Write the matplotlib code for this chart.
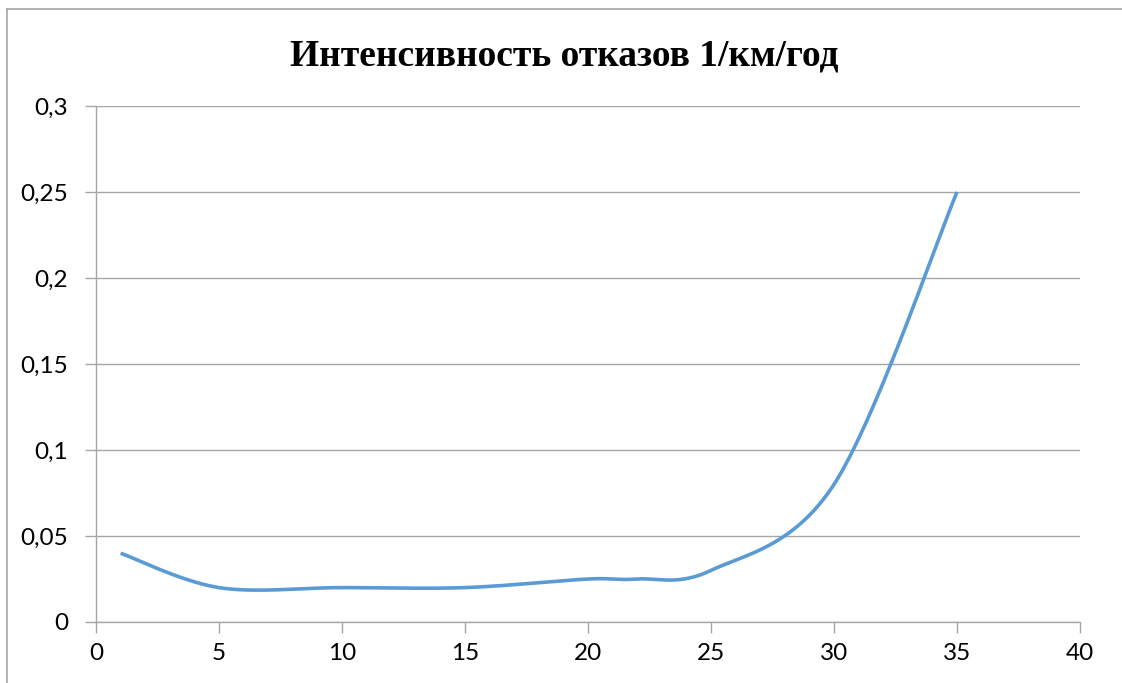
import numpy as np
import matplotlib
matplotlib.use("Agg")
import matplotlib.pyplot as plt
from matplotlib.lines import Line2D

# ---- data ----
years = [1, 5, 10, 15, 20, 22, 25, 30, 35]
rate = [0.04, 0.02, 0.02, 0.02, 0.025, 0.025, 0.03, 0.08, 0.25]
y_ticks = [0, 0.05, 0.1, 0.15, 0.2, 0.25, 0.3]
y_labels = ["0", "0,05", "0,1", "0,15", "0,2", "0,25", "0,3"]
x_ticks = [0, 5, 10, 15, 20, 25, 30, 35, 40]
x_labels = ["0", "5", "10", "15", "20", "25", "30", "35", "40"]
title = "Интенсивность отказов 1/км/год"


def smooth(ax, xs, ys, n=60):
    """Excel-style smoothed line: Bezier segments built in display space,
    control arms (P2-P0)/6 clamped to half the segment length."""
    P = ax.transData.transform(np.column_stack([xs, ys]).astype(float))
    N = len(P)
    f = 1.0 / 6.0
    out = []
    t = np.linspace(0, 1, n)[:, None]
    for i in range(N - 1):
        p0 = P[i - 1] if i > 0 else P[i]
        p1, p2 = P[i], P[i + 1]
        p3 = P[i + 2] if i + 2 < N else P[i + 1]
        d12 = np.linalg.norm(p2 - p1)
        d02 = np.linalg.norm(p2 - p0)
        d13 = np.linalg.norm(p3 - p1)
        f0 = f if d02 * f < d12 / 2 else (d12 / 2) / d02
        f1 = f if d13 * f < d12 / 2 else (d12 / 2) / d13
        c1 = p1 + (p2 - p0) * f0
        c2 = p2 - (p3 - p1) * f1
        seg = ((1 - t) ** 3) * p1 + 3 * ((1 - t) ** 2) * t * c1 + 3 * (1 - t) * t ** 2 * c2 + t ** 3 * p2
        out.append(seg if i == 0 else seg[1:])
    c = ax.transData.inverted().transform(np.vstack(out))
    return c[:, 0], c[:, 1]


W, H = 1122, 683
fig = plt.figure(figsize=(W / 100, H / 100), dpi=100)

# chart area border (extends beyond image on right/bottom)
grey = "#A6A6A6"
fig.add_artist(Line2D([7 / W, 7 / W], [1 - 9 / H, -0.05], color=grey, lw=1.2, transform=fig.transFigure))
fig.add_artist(Line2D([7 / W, 1.05], [1 - 9 / H, 1 - 9 / H], color=grey, lw=1.2, transform=fig.transFigure))

ax = fig.add_axes([96 / W, (H - 622) / H, (1080 - 96) / W, (622 - 106) / H])
ax.set_xlim(0, 40)
ax.set_ylim(0, 0.3)

sx, sy = smooth(ax, years, rate)
ax.plot(sx, sy, color="#5B9BD5", lw=2.6, solid_capstyle="butt", zorder=3)

ax.set_xticks(x_ticks)
ax.set_xticklabels(x_labels)
ax.set_yticks(y_ticks)
ax.set_yticklabels(y_labels)

for s in ["top", "right"]:
    ax.spines[s].set_visible(False)
ax.spines["left"].set_color(grey)
ax.spines["bottom"].set_color(grey)
ax.spines["left"].set_linewidth(1.0)
ax.spines["bottom"].set_linewidth(1.0)
ax.grid(axis="y", color=grey, lw=1.0)
ax.set_axisbelow(True)

ax.tick_params(axis="both", direction="out", length=8, width=1.0, color=grey,
               labelsize=17.5, labelcolor="black")
ax.tick_params(axis="y", pad=12)
ax.tick_params(axis="x", pad=7)
for lab in ax.get_xticklabels() + ax.get_yticklabels():
    lab.set_fontfamily("Lato")

fig.text(564 / W, 1 - 56 / H, title, ha="center", va="center",
         fontsize=27, fontweight="bold", family="Liberation Serif")

fig.savefig("out.png", dpi=100)
